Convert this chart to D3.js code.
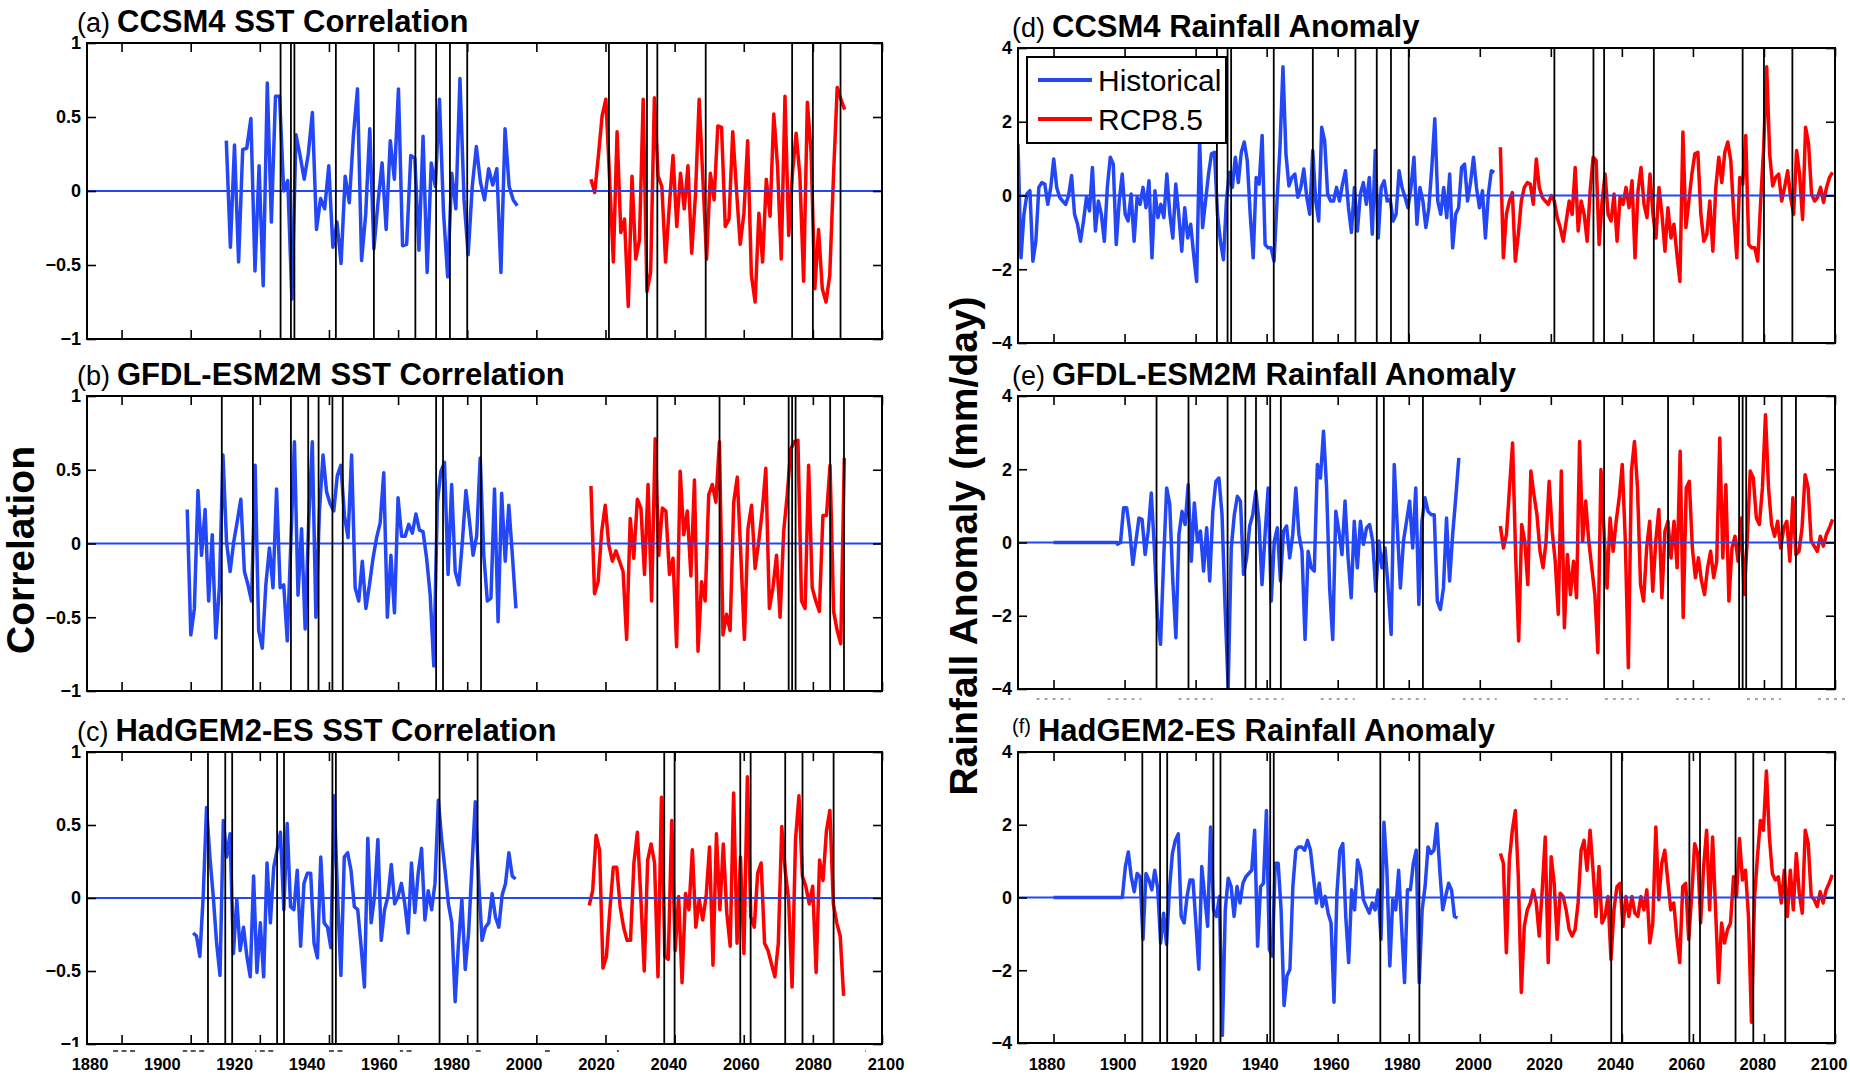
<!DOCTYPE html>
<html>
<head>
<meta charset="utf-8">
<script src="https://d3js.org/d3.v7.min.js"></script>
<style>
  body { margin: 0; background: #fff; }
  svg { display: block; font-family: "Liberation Sans", Arial, Helvetica, sans-serif; }
</style>
</head>
<body>
<svg id="chart" width="1850" height="1076"></svg>
<script>
'use strict';

// ---- axes ----
const xDomain = [1870, 2100];
const xTicks = [1880, 1900, 1920, 1940, 1960, 1980, 2000, 2020, 2040, 2060, 2080, 2100];
const sstTicks = [-1, -0.5, 0, 0.5, 1];
const rainTicks = [-4, -2, 0, 2, 4];

// ---- years marked with black lines (per model) ----
const eventsCcsm4 = [1926, 1929, 1930, 1942, 1953, 1965, 1971, 1975, 1980, 2021, 2032, 2035, 2049, 2074, 2080, 2088];
const eventsGfdl = [1909, 1918, 1929, 1934, 1937, 1941, 1944, 1971, 1973, 1984, 2035, 2053, 2073, 2074, 2075, 2085, 2089];
const eventsHadgem = [1905, 1910, 1912, 1925, 1927, 1941, 1942, 1972, 1983, 2037, 2040, 2059, 2062, 2072, 2077, 2086];

// ---- SST correlation series (evenly spaced between first and last year) ----
const ccsm4SstHistYears = [1910.3, 1994.5];
const ccsm4SstHist = [0.34,-0.38,0.31,-0.48,0.28,0.29,0.49,-0.54,0.17,-0.64,0.73,-0.21,0.64,0.64,0,0.07,-0.73,0.38,0.24,0.08,0.25,0.53,-0.26,-0.05,-0.12,0.17,-0.38,-0.21,-0.49,0.10,-0.08,0.37,0.69,-0.47,-0.16,0.42,-0.39,-0.08,0.19,-0.26,0.34,0.08,0.69,-0.37,-0.36,0.24,0.22,-0.40,0.37,-0.55,0.19,0.03,0.62,-0.15,-0.58,0.12,-0.12,0.76,-0.06,-0.43,0.03,0.30,0.06,-0.06,0.15,0.04,0.15,-0.55,0.42,0.03,-0.06,-0.10];
const ccsm4SstRcpYears = [2015.8, 2089.2];
const ccsm4SstRcp = [0.08,-0.01,0.24,0.51,0.62,0.08,-0.48,0.40,-0.28,-0.19,-0.78,0.10,-0.46,-0.33,0.62,-0.68,-0.55,0.63,0.10,0.03,-0.48,-0.10,0.24,-0.24,0.12,-0.12,0.17,-0.42,-0.03,0.62,0.08,-0.46,0.12,-0.06,0.44,0.43,-0.24,-0.19,0.40,0.01,-0.36,-0.15,0.34,-0.57,-0.75,-0.15,-0.48,0.08,-0.17,0.52,0.17,-0.46,0.64,-0.30,0.12,0.39,0.10,-0.61,0.60,0.26,-0.66,-0.26,-0.66,-0.75,-0.57,0.10,0.70,0.62,0.55];

const gfdlSstHistYears = [1899.0, 1994.1];
const gfdlSstHist = [0.23,-0.62,-0.44,0.36,-0.08,0.23,-0.39,0.06,-0.64,-0.30,0.60,0.01,-0.19,0.01,0.15,0.30,-0.19,-0.28,-0.39,0.53,-0.59,-0.71,-0.28,-0.03,-0.30,0.37,-0.30,-0.28,-0.66,0.01,0.69,-0.35,0.10,-0.58,0.15,0.69,-0.50,0.22,0.60,0.35,0.27,0.22,0.46,0.53,0.19,0.04,0.60,-0.30,-0.39,-0.12,-0.44,-0.28,-0.10,0.04,0.14,0.48,-0.50,-0.08,-0.47,0.31,0.05,0.05,0.13,0.07,0.20,0.09,0.08,-0.10,-0.35,-0.83,0.28,0.49,0.55,-0.21,0.40,-0.19,-0.28,0.01,0.36,0.15,-0.08,0.05,0.58,-0.08,-0.39,-0.37,0.37,-0.53,0.34,-0.12,0.26,-0.08,-0.44];
const gfdlSstRcpYears = [2015.8, 2089.1];
const gfdlSstRcp = [0.39,-0.34,-0.26,0.08,0.26,-0.01,-0.12,-0.05,-0.12,-0.19,-0.65,0.17,-0.10,0.30,0.24,-0.21,0.40,-0.39,0.71,-0.08,0.24,0.22,-0.21,-0.10,-0.70,0.49,0.06,0.22,-0.22,0.43,-0.73,-0.26,-0.39,0.33,0.40,0.28,0.69,-0.62,-0.48,-0.59,0.28,0.45,-0.08,-0.65,0.10,0.26,-0.17,0.01,0.22,0.51,-0.44,-0.30,-0.08,-0.50,0.08,0.33,0.64,0.69,0.70,-0.39,-0.44,0.53,-0.30,-0.39,-0.46,0.19,0.19,0.53,-0.46,-0.59,-0.68,0.58];

const hadgemSstHistYears = [1900.7, 1994.0];
const hadgemSstHist = [-0.24,-0.26,-0.40,0.01,0.62,0.28,0.01,-0.31,-0.53,0.53,0.28,0.44,-0.38,-0.01,-0.36,-0.20,-0.40,-0.54,0.15,-0.51,-0.17,-0.54,0.24,-0.17,0.21,0.33,0.45,-0.08,0.51,-0.06,-0.08,0.19,-0.33,0.10,0.17,0.17,-0.31,-0.41,0.28,-0.17,-0.20,-0.34,0.70,0.01,-0.53,0.28,0.31,0.19,-0.06,-0.08,-0.33,-0.61,0.41,-0.17,0.01,0.40,-0.29,-0.08,0.01,0.23,-0.04,0.01,0.10,-0.04,-0.24,0.24,-0.10,0.17,0.34,-0.15,0.05,-0.08,0.10,0.67,0.40,0.19,-0.04,-0.17,-0.71,-0.31,-0.01,-0.49,-0.24,0.21,0.66,0.12,-0.29,-0.20,-0.17,0.03,-0.13,-0.20,0.02,0.10,0.31,0.15,0.13];
const hadgemSstRcpYears = [2015.3, 2088.9];
const hadgemSstRcp = [-0.05,0.05,0.43,0.33,-0.48,-0.40,-0.08,0.21,0.21,-0.06,-0.20,-0.29,-0.29,0.24,0.45,0.01,-0.50,0.26,0.37,0.24,-0.54,0.69,-0.40,-0.42,0.53,-0.36,0.01,-0.58,0.03,-0.08,0.33,-0.20,-0.01,-0.15,0.01,0.35,-0.46,0.44,-0.08,0.37,-0.10,-0.33,0.72,-0.31,0.28,-0.38,0.83,-0.13,-0.20,0.17,0.24,-0.31,-0.36,-0.45,-0.54,-0.31,0.49,0.19,-0.01,-0.61,0.40,0.70,0.15,0.08,-0.04,0.08,-0.51,0.26,0.12,0.46,0.60,-0.04,-0.17,-0.26,-0.67];

// ---- rainfall anomaly series (mm/day) ----
const ccsm4RainHistYears = [1870.0, 2004.1];
const ccsm4RainHist = [1.40,-1.69,-0.51,0.04,0.13,-1.78,-1.24,0.22,0.35,0.31,-0.24,0.22,0.99,0.22,-0.05,-0.15,-0.24,0,0.54,-0.51,-0.78,-1.24,-0.69,-0.05,-0.42,0.76,-0.96,-0.15,-0.51,-1.24,0.22,1.04,0.85,-1.33,-0.15,0.58,-0.51,-0.69,0.04,-1.24,-0.05,-0.24,0.22,-0.33,0.40,-1.69,0.13,-0.60,-0.24,-0.60,0.58,-0.51,-1.15,0.31,-0.51,-1.51,-0.33,-1.15,-0.78,-1.60,-2.33,1.49,-0.87,-0.15,0.58,1.13,1.17,-0.51,-1.24,-1.74,-0.15,0.63,0.22,1.04,0.35,1.17,1.45,0.95,-0.51,-1.69,0.49,0.31,1.63,-1.33,-1.42,-1.42,-1.78,-0.15,1.31,3.49,1.13,0.26,0.49,0.58,-0.05,0.22,0.72,-0.05,-0.51,1.22,-0.15,-0.69,1.85,1.49,0.04,-0.15,-0.15,0.22,-0.15,0.31,0.67,-0.33,-1.00,0.22,-0.96,0.04,0.35,-0.24,0.49,-1.05,1.22,-1.15,0.22,0.40,-0.15,-0.10,-0.69,-0.51,0.67,0.22,-0.05,-0.33,0.22,1.04,-0.78,0.22,-0.15,-0.87,-0.33,0.76,2.08,-0.15,-0.51,0.22,-0.60,0.58,-1.42,-0.51,-0.33,0.76,0.85,-0.15,0.35,1.04,0.22,-0.33,0.13,-1.15,0.04,0.67,0.63];
const ccsm4RainRcpYears = [2005.8, 2099.3];
const ccsm4RainRcp = [1.31,-1.69,-0.51,-0.15,0.08,-1.78,-1.05,-0.15,0.22,0.35,0.31,-0.24,0.99,0.22,-0.05,-0.15,-0.24,0,-0.15,-0.60,-0.87,-1.24,-0.69,-0.15,-0.51,0.76,-0.96,-0.15,-0.51,-1.24,0.13,1.04,0.95,-1.33,-0.15,0.58,-0.51,-0.69,0.04,-1.24,-0.05,-0.24,0.22,-0.33,0.40,-1.69,0.13,0.76,-0.24,-0.60,0.58,-0.51,-1.15,0.22,-0.51,-1.51,-0.33,-1.15,-0.78,-1.60,-2.33,1.72,-0.87,-0.15,0.58,1.13,1.17,-0.51,-1.24,-1.05,-0.15,-1.51,0.22,1.04,0.35,1.17,1.45,0.95,-0.51,-1.69,0.49,0.31,1.63,-1.33,-1.42,-1.42,-1.78,-0.15,1.31,3.49,1.13,0.26,0.49,0.58,-0.15,0.22,0.67,-0.05,-0.51,1.22,0.58,-0.65,1.85,1.40,0.04,-0.15,-0.05,0.22,-0.19,0.22,0.49,0.63];

const gfdlRainHistYears = [1898.0, 1994.1];
const gfdlRainHist = [-0.05,0,0.95,0.95,0.31,-0.60,0.04,0.67,0.63,-0.33,0.31,1.35,-0.15,-2.05,-2.78,-0.51,1.49,1.04,-1.05,-2.60,0.22,0.85,0.49,1.58,-0.51,1.08,0.04,0.31,-0.78,0.40,-1.05,0.85,1.67,1.76,0.76,-1.78,-3.96,-0.15,0.76,1.26,1.13,-0.87,-0.42,0.45,0.76,1.40,0.58,-1.15,0.22,1.49,-1.60,0.04,0.40,-1.05,0.31,0.45,-0.42,0.22,1.49,0.22,-0.24,-2.65,-0.24,-0.69,-0.78,2.13,1.76,3.04,1.49,-1.24,-2.65,0.85,0.31,-0.33,1.13,-0.42,-1.51,0.58,-0.69,0.58,-0.05,0.40,0.49,0.04,-1.33,0.04,-0.69,-0.15,-1.24,-2.51,2.13,0.40,-1.24,0.04,0.58,1.13,-0.15,1.49,-1.69,0.58,1.22,0.85,0.76,0.76,-1.60,-1.83,-1.24,0.67,-1.05,0.22,1.22,2.31];
const gfdlRainRcpYears = [2005.8, 2099.3];
const gfdlRainRcp = [0.45,-0.15,0.22,1.49,2.72,-0.33,-2.69,0.49,0.04,-1.15,1.95,1.31,0.76,-0.24,-0.69,0.04,1.67,0.31,-0.51,-1.96,1.95,-2.33,-0.33,-1.42,-0.51,-1.51,2.76,0.04,1.13,0.04,-0.69,-1.42,-3.01,1.99,0.31,-1.24,0.67,-0.24,0.58,1.22,2.13,0.04,-3.42,1.95,2.76,1.49,-1.15,-1.60,-0.15,0.58,-1.33,0.04,0.90,-1.51,0.31,0.58,-0.42,0.58,-0.69,2.49,-2.05,1.49,1.67,-0.15,-0.96,-0.42,-1.05,-1.42,-0.69,-0.24,-0.96,-0.51,2.85,-0.42,1.58,-1.60,-0.15,0.17,-0.51,0.67,-1.42,0.04,1.95,1.76,0.67,0.49,1.49,3.49,1.49,0.49,0.17,0.58,-0.15,0.40,0.58,-0.51,1.22,-0.33,-0.24,0.40,1.85,1.49,0.04,-0.10,-0.24,0.17,-0.10,0.22,0.40,0.63];

const hadgemRainHistYears = [1899.4, 1993.7];
const hadgemRainHist = [0.03,0.85,1.25,0.57,0.16,0.66,0.57,-1.15,0.66,0.48,0.21,0.75,0.25,-1.25,-0.43,-1.29,0.21,1.21,1.57,1.75,-0.52,-0.70,0.03,0.48,0.48,-0.70,-1.97,0.85,0.03,-0.79,1.94,-0.34,-0.52,0.03,-3.79,-0.34,0.53,0.30,-0.52,0.30,-0.15,0.39,0.57,0.66,0.75,1.85,-1.34,0.30,0.39,2.39,-1.43,-1.61,0.94,0.94,-0.34,-2.97,-2.15,-1.97,0.30,1.30,1.39,1.39,1.30,1.57,1.30,0.57,-0.15,0.39,-0.25,0.03,-0.43,-0.70,-2.88,0.12,1.30,1.48,-0.52,-1.79,0.21,-0.34,1.03,0.75,-0.06,-0.25,-0.43,-0.15,-0.34,0.21,-1.15,2.07,0.75,-1.88,-0.06,-0.34,0.75,-0.79,-2.34,0.21,0.21,0.94,1.30,-2.34,-0.34,0.30,1.39,1.21,1.30,2.03,0.75,-0.34,0.03,0.39,0.21,-0.52,-0.56];
const hadgemRainRcpYears = [2005.8, 2099.2];
const hadgemRainRcp = [1.21,0.94,-1.52,1.03,1.85,2.39,0.57,-2.61,-0.79,-0.34,-0.15,0.21,-0.15,-1.06,0.21,1.66,-1.79,1.12,0.39,-1.15,0.12,0.03,-0.34,-0.88,-1.06,-0.88,-0.15,1.30,1.57,0.75,1.85,0.75,-0.52,0.85,-0.70,-0.52,0.03,-1.70,-0.34,0.30,0.39,-0.79,0.03,-0.52,0.03,-0.43,-0.52,0.03,-0.34,0.21,-1.25,-0.70,1.94,-0.06,0.94,1.30,0.48,-0.34,-0.15,-1.06,-1.79,0.30,0.39,-1.15,0.03,1.48,1.21,-0.70,0.85,1.85,-0.34,1.66,-0.34,-2.34,-0.70,-1.25,-0.88,-0.70,0.57,0.03,1.62,0.48,0.75,-0.52,-3.43,-0.06,1.12,2.12,1.85,3.48,1.66,0.66,0.48,0.57,-0.15,0.75,-0.52,0.75,-0.34,1.21,0.12,-0.43,1.85,1.48,0.03,-0.06,-0.25,0.16,-0.15,0.21,0.39,0.62];

// historical rainfall runs of (e) and (f) sit at zero from this year on
const rainZeroFrom = 1880;

const legendLabels = ['Historical', 'RCP8.5'];

// ---- layout ----
const blue = '#2347f4';
const red = '#ff0000';
const cols = [
    {x0: 87, x1: 882, rows: [[43, 339], [396, 691], [752, 1044]], titleX: 77, labelRange: [90, 886]},
    {x0: 1018, x1: 1835, rows: [[48, 343], [396, 689], [752, 1043]], titleX: 1012, labelRange: [1047, 1829]}
];

const panels = [
    {tag: '(a)', title: 'CCSM4 SST Correlation', col: 0, row: 0, dom: [-1, 1], ticks: sstTicks,
     hist: ccsm4SstHist, histYears: ccsm4SstHistYears, rcp: ccsm4SstRcp, rcpYears: ccsm4SstRcpYears, events: eventsCcsm4},
    {tag: '(b)', title: 'GFDL-ESM2M SST Correlation', col: 0, row: 1, dom: [-1, 1], ticks: sstTicks,
     hist: gfdlSstHist, histYears: gfdlSstHistYears, rcp: gfdlSstRcp, rcpYears: gfdlSstRcpYears, events: eventsGfdl},
    {tag: '(c)', title: 'HadGEM2-ES SST Correlation', col: 0, row: 2, dom: [-1, 1], ticks: sstTicks,
     hist: hadgemSstHist, histYears: hadgemSstHistYears, rcp: hadgemSstRcp, rcpYears: hadgemSstRcpYears, events: eventsHadgem},
    {tag: '(d)', title: 'CCSM4 Rainfall Anomaly', col: 1, row: 0, dom: [-4, 4], ticks: rainTicks,
     hist: ccsm4RainHist, histYears: ccsm4RainHistYears, rcp: ccsm4RainRcp, rcpYears: ccsm4RainRcpYears, events: eventsCcsm4, legend: true},
    {tag: '(e)', title: 'GFDL-ESM2M Rainfall Anomaly', col: 1, row: 1, dom: [-4, 4], ticks: rainTicks,
     hist: gfdlRainHist, histYears: gfdlRainHistYears, rcp: gfdlRainRcp, rcpYears: gfdlRainRcpYears, events: eventsGfdl, zeroFrom: rainZeroFrom, ghostLabels: true},
    {tag: '(f)', title: 'HadGEM2-ES Rainfall Anomaly', col: 1, row: 2, dom: [-4, 4], ticks: rainTicks,
     hist: hadgemRainHist, histYears: hadgemRainHistYears, rcp: hadgemRainRcp, rcpYears: hadgemRainRcpYears, events: eventsHadgem, zeroFrom: rainZeroFrom, smallTag: true}
];

const svg = d3.select('#chart');
const defs = svg.append('defs');

function toPoints(values, span, zeroFrom){
    let pos = d3.scaleLinear().domain([0, values.length - 1]).range(span);
    let pts = values.map(function(v, i){ return [pos(i), v]; });
    if(zeroFrom !== undefined){
        pts.unshift([span[0], 0]);
        pts.unshift([zeroFrom, 0]);
    }
    return pts;
}

function styleTicks(sel){
    sel.select('.domain').remove();
    sel.selectAll('.tick line').attr('stroke', '#000').attr('stroke-width', 1.6);
}

// short dashes where the tops of covered tick labels peek out
function ghostMarks(x, yPos, colour, dash){
    svg.append('g').selectAll('line').data(xTicks).enter().append('line')
        .attr('x1', function(d){ return x(d) - 17; })
        .attr('x2', function(d){ return x(d) + 17; })
        .attr('y1', yPos).attr('y2', yPos)
        .attr('stroke', colour).attr('stroke-width', 1.6)
        .attr('stroke-dasharray', dash);
}

panels.forEach(function(p, k){
    let c = cols[p.col];
    let top = c.rows[p.row][0], bottom = c.rows[p.row][1];
    let x = d3.scaleLinear().domain(xDomain).range([c.x0, c.x1]);
    let y = d3.scaleLinear().domain(p.dom).range([bottom, top]);
    let g = svg.append('g');

    defs.append('clipPath').attr('id', 'clip' + k)
        .append('rect').attr('x', c.x0).attr('y', top).attr('width', c.x1 - c.x0).attr('height', bottom - top);

    let plot = g.append('g').attr('clip-path', 'url(#clip' + k + ')');
    let line = d3.line().x(function(d){ return x(d[0]); }).y(function(d){ return y(d[1]); });

    // series
    plot.append('path').datum(toPoints(p.hist, p.histYears, p.zeroFrom))
        .attr('d', line).attr('fill', 'none').attr('stroke', blue)
        .attr('stroke-width', 3.5).attr('stroke-linejoin', 'round');
    plot.append('path').datum(toPoints(p.rcp, p.rcpYears))
        .attr('d', line).attr('fill', 'none').attr('stroke', red)
        .attr('stroke-width', 3.5).attr('stroke-linejoin', 'round');

    // zero line
    plot.append('line')
        .attr('x1', x(xDomain[0])).attr('x2', x(xDomain[1]))
        .attr('y1', y(0)).attr('y2', y(0))
        .attr('stroke', blue).attr('stroke-width', 2);

    // event lines
    plot.selectAll('.ev').data(p.events).enter().append('line')
        .attr('x1', function(d){ return x(d); }).attr('x2', function(d){ return x(d); })
        .attr('y1', top).attr('y2', bottom)
        .attr('stroke', '#000').attr('stroke-width', 1.8);

    // inward ticks on all four sides
    let fmt = d3.format('');
    g.append('g').attr('transform', 'translate(' + c.x0 + ',0)')
        .call(d3.axisLeft(y).tickValues(p.ticks).tickSize(-9).tickSizeOuter(0).tickPadding(6).tickFormat(fmt))
        .call(styleTicks)
        .call(function(s){
            s.attr('font-family', null);
            s.selectAll('text').attr('font-size', 18).attr('font-weight', 'bold').attr('fill', '#000');
        });
    g.append('g').attr('transform', 'translate(' + c.x1 + ',0)')
        .call(d3.axisRight(y).tickValues(p.ticks).tickSize(-9).tickSizeOuter(0).tickFormat(''))
        .call(styleTicks);
    g.append('g').attr('transform', 'translate(0,' + top + ')')
        .call(d3.axisTop(x).tickValues(xTicks).tickSize(-9).tickSizeOuter(0).tickFormat(''))
        .call(styleTicks);
    g.append('g').attr('transform', 'translate(0,' + bottom + ')')
        .call(d3.axisBottom(x).tickValues(xTicks).tickSize(-9).tickSizeOuter(0).tickFormat(''))
        .call(styleTicks);

    // box
    g.append('rect').attr('x', c.x0).attr('y', top)
        .attr('width', c.x1 - c.x0).attr('height', bottom - top)
        .attr('fill', 'none').attr('stroke', '#000').attr('stroke-width', 2);

    // title
    let t = g.append('text').attr('x', c.titleX).attr('y', top - 11).attr('fill', '#000');
    t.append('tspan').text(p.tag)
        .attr('font-size', p.smallTag ? 20 : 27)
        .attr('dy', p.smallTag ? -8 : 0);
    t.append('tspan').text(p.title)
        .attr('font-size', 31).attr('font-weight', 'bold')
        .attr('dx', 7).attr('dy', p.smallTag ? 8 : 0);

    // bottom row year labels
    if(p.row === 2){
        let labelX = d3.scaleLinear().domain([1880, 2100]).range(c.labelRange);
        if(p.col === 0){
            ghostMarks(x, 1051, '#222', '5,3.5');
        }
        let lg = svg.append('g');
        lg.selectAll('text').data(xTicks).enter().append('text')
            .attr('x', function(d){ return labelX(d); }).attr('y', 1070)
            .attr('text-anchor', 'middle').attr('font-size', 16.5).attr('font-weight', 'bold')
            .attr('fill', '#000').text(function(d){ return d; })
            .each(function(){
                let b = this.getBBox();
                lg.insert('rect', 'text').attr('x', b.x - 2).attr('y', 1047)
                    .attr('width', b.width + 4).attr('height', 26).attr('fill', '#fff');
            });
    }

    // faint leftovers of hidden labels under (e)
    if(p.ghostLabels){
        ghostMarks(x, 699, '#8a8a8a', '3,5');
    }

    // legend
    if(p.legend){
        let lgd = g.append('g');
        lgd.append('rect').attr('x', 1027).attr('y', 57).attr('width', 199).attr('height', 86)
            .attr('fill', '#fff').attr('stroke', '#000').attr('stroke-width', 2);
        let items = lgd.selectAll('.item').data(legendLabels).enter().append('g')
            .attr('transform', function(d, i){ return 'translate(1038,' + (80 + i * 39) + ')'; });
        items.append('line').attr('x1', 0).attr('x2', 54).attr('y1', 0).attr('y2', 0)
            .attr('stroke', function(d, i){ return i === 0 ? blue : red; }).attr('stroke-width', 4);
        items.append('text').attr('x', 60).attr('y', 11).attr('font-size', 30)
            .attr('fill', '#000').text(function(d){ return d; });
    }
});

// big axis titles
svg.append('text').attr('transform', 'translate(34,550) rotate(-90)')
    .attr('text-anchor', 'middle').attr('font-size', 39).attr('font-weight', 'bold')
    .attr('fill', '#000').text('Correlation');
svg.append('text').attr('transform', 'translate(977,546) rotate(-90)')
    .attr('text-anchor', 'middle').attr('font-size', 39).attr('font-weight', 'bold')
    .attr('fill', '#000').text('Rainfall Anomaly (mm/day)');
</script>
</body>
</html>
